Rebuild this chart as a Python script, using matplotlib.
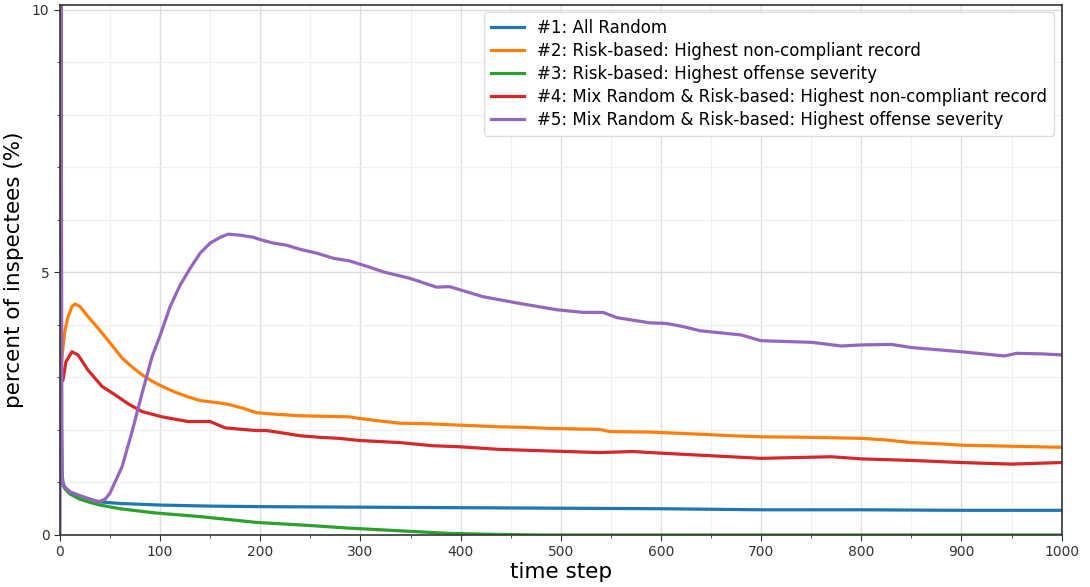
import matplotlib
matplotlib.use("Agg")
import matplotlib.pyplot as plt
from matplotlib.ticker import MultipleLocator

labels = [
    "#1: All Random",
    "#2: Risk-based: Highest non-compliant record",
    "#3: Risk-based: Highest offense severity",
    "#4: Mix Random & Risk-based: Highest non-compliant record",
    "#5: Mix Random & Risk-based: Highest offense severity",
]
colors = ["#1f77b4", "#ff7f0e", "#2ca02c", "#d62728", "#9467bd"]

t_blue = [0, 1, 2, 3, 5, 10, 20, 30, 40, 60, 100, 150, 200, 300, 400, 500, 600, 700, 800, 900, 1000]
v_blue = [2.9, 2.9, 1.2, 1.0, 0.9, 0.82, 0.74, 0.68, 0.63, 0.6, 0.57, 0.55, 0.54, 0.53, 0.52, 0.51, 0.50, 0.48, 0.48, 0.47, 0.47]

t_orange = [0, 2, 5, 8, 12, 15, 20, 28, 38, 50, 62, 72, 82, 92, 102, 115, 128, 140, 161, 170, 185, 196,
            215, 240, 265, 289, 299, 320, 339, 365, 389, 415, 439, 465, 489, 515, 539, 549, 589, 639,
            670, 700, 750, 800, 825, 850, 875, 900, 950, 1000]
v_orange = [2.9, 3.4, 3.9, 4.15, 4.35, 4.4, 4.35, 4.16, 3.94, 3.66, 3.37, 3.2, 3.05, 2.93, 2.83, 2.72, 2.63,
            2.56, 2.51, 2.48, 2.40, 2.33, 2.30, 2.27, 2.26, 2.25, 2.22, 2.17, 2.13, 2.12, 2.10, 2.08, 2.06,
            2.05, 2.03, 2.02, 2.01, 1.97, 1.96, 1.92, 1.89, 1.87, 1.86, 1.84, 1.81, 1.76, 1.74, 1.71, 1.69, 1.67]

t_green = [0, 1, 2, 3, 5, 10, 20, 30, 40, 60, 95, 140, 196, 250, 289, 339, 389, 439, 480, 1000]
v_green = [2.9, 2.9, 1.1, 0.95, 0.88, 0.78, 0.68, 0.62, 0.57, 0.50, 0.42, 0.35, 0.24, 0.18, 0.13, 0.08, 0.03, 0.01, 0.0, 0.0]

t_red = [0, 3, 6, 12, 18, 28, 42, 55, 68, 82, 102, 128, 145, 150, 165, 195, 206, 220, 240, 260, 279, 299,
         339, 372, 399, 439, 489, 539, 572, 589, 639, 700, 770, 800, 850, 900, 950, 1000]
v_red = [2.9, 2.95, 3.3, 3.49, 3.43, 3.14, 2.83, 2.67, 2.5, 2.35, 2.25, 2.16, 2.16, 2.16, 2.04, 1.99, 1.99,
         1.95, 1.89, 1.86, 1.84, 1.80, 1.76, 1.70, 1.68, 1.63, 1.60, 1.57, 1.59, 1.57, 1.52, 1.46, 1.49,
         1.45, 1.42, 1.38, 1.35, 1.38]

t_purple = [0, 1, 2, 3, 10, 20, 30, 38, 45, 50, 62, 72, 82, 92, 100, 110, 120, 130, 140, 150, 160, 168,
            180, 193, 201, 213, 226, 240, 256, 273, 289, 306, 323, 349, 376, 389, 422, 456, 496, 522, 542,
            556, 589, 605, 622, 639, 680, 700, 750, 780, 800, 830, 850, 900, 943, 955, 980, 1000]
v_purple = [0.0, 12.0, 1.1, 0.95, 0.82, 0.75, 0.68, 0.63, 0.68, 0.8, 1.30, 1.97, 2.70, 3.40, 3.80, 4.35,
            4.76, 5.08, 5.37, 5.56, 5.67, 5.73, 5.71, 5.67, 5.62, 5.56, 5.52, 5.44, 5.37, 5.27, 5.22, 5.12,
            5.01, 4.89, 4.72, 4.73, 4.54, 4.42, 4.29, 4.24, 4.24, 4.14, 4.04, 4.03, 3.97, 3.89, 3.81, 3.70,
            3.67, 3.60, 3.62, 3.63, 3.57, 3.49, 3.41, 3.46, 3.45, 3.43]

series = [(t_blue, v_blue), (t_orange, v_orange), (t_green, v_green), (t_red, v_red), (t_purple, v_purple)]

fig = plt.figure(figsize=(10.9, 5.87), dpi=100)
ax = fig.add_axes([0.055, 0.0886, 0.919, 0.9034])

for (t, v), c, lab in zip(series, colors, labels):
    ax.plot(t, v, color=c, lw=2.3, label=lab)

ax.set_xlim(0, 1000)
ax.set_ylim(0, 10.1)
ax.xaxis.set_major_locator(MultipleLocator(100))
ax.xaxis.set_minor_locator(MultipleLocator(50))
ax.yaxis.set_major_locator(MultipleLocator(5))
ax.yaxis.set_minor_locator(MultipleLocator(1))
ax.grid(which="major", color="#dddddd", lw=1.0)
ax.grid(which="minor", color="#f0f0f0", lw=0.8)
ax.set_axisbelow(True)
for s in ax.spines.values():
    s.set_color("#333333")
    s.set_linewidth(1.2)
ax.tick_params(which="both", colors="#333333", labelsize=10, length=4)
ax.tick_params(which="minor", length=2.5)
ax.set_xlabel("time step", fontsize=15.5, labelpad=2)
ax.set_ylabel("percent of inspectees (%)", fontsize=15.5, labelpad=6)

ax.legend(loc="upper right", fontsize=12, labelspacing=0.3, borderaxespad=0.45,
          framealpha=1.0, edgecolor="#dddddd", fancybox=True)

fig.savefig("out.png", dpi=100)
